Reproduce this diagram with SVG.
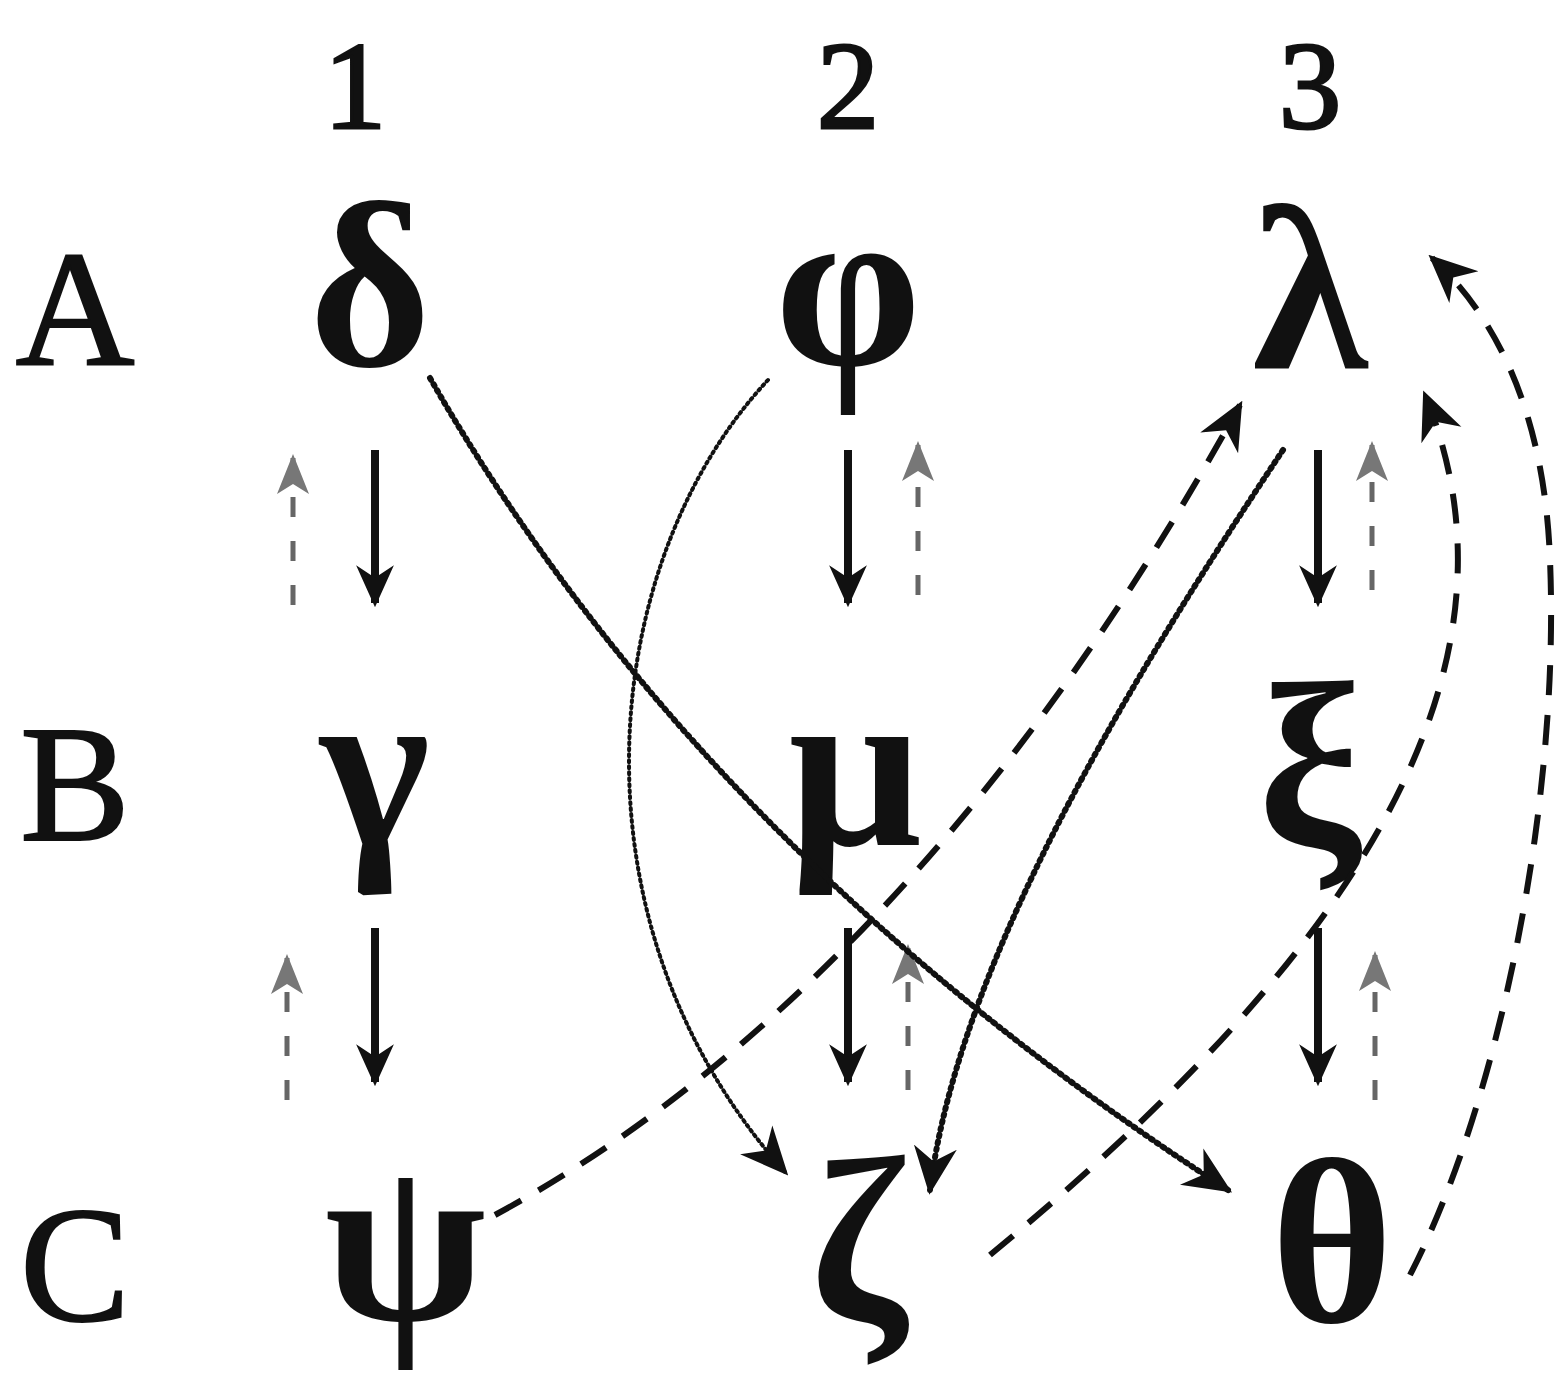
<svg xmlns="http://www.w3.org/2000/svg" width="1564" height="1373" viewBox="0 0 1564 1373">
<defs>
<style>
.lbl{font-family:"Liberation Serif",serif;fill:#111;text-anchor:middle}
.hdr{font-size:125px;stroke:#111;stroke-width:3}
.row{font-size:165px;stroke:#111;stroke-width:2}
.gk{font-size:235px;font-weight:bold}
.solid{stroke:#111;stroke-width:8;fill:none;marker-end:url(#ahs)}
.gray{stroke:#666;stroke-width:5;fill:none;stroke-dasharray:20 24;marker-end:url(#ahg)}
.dot{stroke:#111;stroke-width:6;fill:none;stroke-dasharray:2 5;stroke-linecap:round;marker-end:url(#ah)}
.thin{stroke:#111;stroke-width:4;fill:none;stroke-dasharray:2 4;stroke-linecap:round;marker-end:url(#ah)}
.dash{stroke:#111;stroke-width:6;fill:none;stroke-dasharray:30 20;marker-end:url(#ah)}
</style>
<marker id="ah" viewBox="0 0 20 20" refX="18" refY="10" markerWidth="48" markerHeight="48" markerUnits="userSpaceOnUse" orient="auto">
<path d="M0,1 L20,10 L0,19 L6,10 z" fill="#111"/>
</marker>
<marker id="ahs" viewBox="0 0 20 20" refX="18" refY="10" markerWidth="42" markerHeight="42" markerUnits="userSpaceOnUse" orient="auto">
<path d="M0,1 L20,10 L0,19 L6,10 z" fill="#111"/>
</marker>
<marker id="ahg" viewBox="0 0 20 20" refX="18" refY="10" markerWidth="40" markerHeight="40" markerUnits="userSpaceOnUse" orient="auto">
<path d="M0,2 L20,10 L0,18 L5,10 z" fill="#777"/>
</marker>
</defs>
<g id="headers">
<text class="lbl hdr" x="355" y="128">1</text>
<text class="lbl hdr" x="848" y="128">2</text>
<text class="lbl hdr" x="1310" y="128">3</text>
<text class="lbl row" x="75" y="365">A</text>
<text class="lbl row" x="75" y="840">B</text>
<text class="lbl row" x="75" y="1320">C</text>
</g>
<g id="node-delta"><text class="lbl gk" x="370" y="365">δ</text></g>
<g id="node-phi"><text class="lbl gk" x="848" y="365">φ</text></g>
<g id="node-lambda"><text class="lbl gk" x="1310" y="368">λ</text></g>
<g id="node-gamma"><text class="lbl gk" x="375" y="845">γ</text></g>
<g id="node-mu"><text class="lbl gk" x="855" y="845">μ</text></g>
<g id="node-xi"><text class="lbl gk" x="1310" y="845">ξ</text></g>
<g id="node-psi"><text class="lbl gk" x="405" y="1320">ψ</text></g>
<g id="node-zeta"><text class="lbl gk" x="858" y="1320">ζ</text></g>
<g id="node-theta"><text class="lbl gk" x="1332" y="1322">θ</text></g>
<g id="connectors">
<line class="solid" x1="375" y1="450" x2="375" y2="603"/>
<line class="solid" x1="375" y1="928" x2="375" y2="1082"/>
<line class="solid" x1="848" y1="450" x2="848" y2="603"/>
<line class="solid" x1="848" y1="928" x2="848" y2="1082"/>
<line class="solid" x1="1318" y1="450" x2="1318" y2="603"/>
<line class="solid" x1="1318" y1="928" x2="1318" y2="1082"/>
<line class="gray" x1="293" y1="605" x2="293" y2="458"/>
<line class="gray" x1="287" y1="1100" x2="287" y2="958"/>
<line class="gray" x1="918" y1="595" x2="918" y2="445"/>
<line class="gray" x1="908" y1="1090" x2="908" y2="948"/>
<line class="gray" x1="1372" y1="590" x2="1372" y2="445"/>
<line class="gray" x1="1375" y1="1100" x2="1375" y2="955"/>
<path class="dot" d="M430,378 Q700,850 1228,1190"/>
<path class="thin" d="M768,380 C600,560 560,920 785,1172"/>
<path class="dot" d="M1283,450 C1150,650 960,950 930,1190"/>
<path class="dash" d="M495,1215 C800,1050 1050,750 1240,405"/>
<path class="dash" d="M990,1255 C1300,1000 1550,700 1425,395"/>
<path class="dash" d="M1410,1275 C1500,1100 1560,800 1550,560 C1545,420 1500,320 1432,258"/>
</g>
</svg>
